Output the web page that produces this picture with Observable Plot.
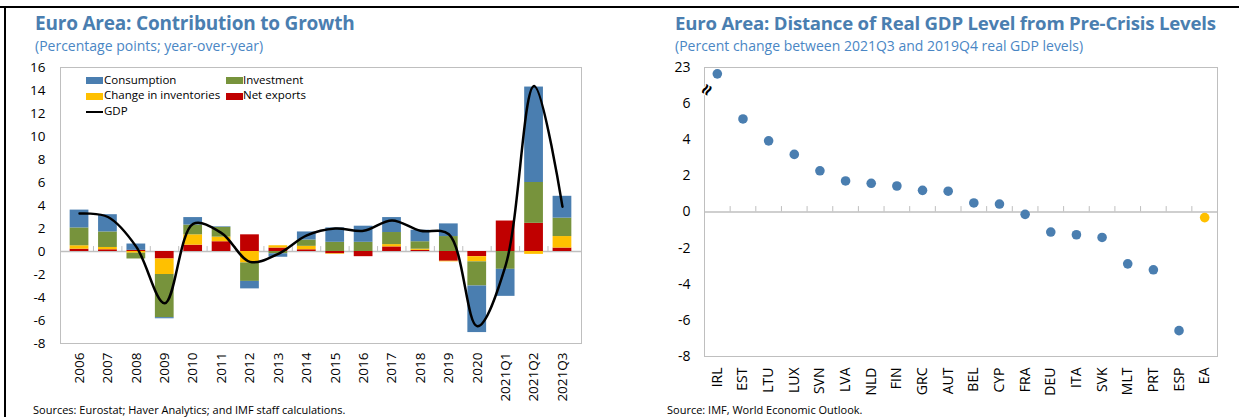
<!DOCTYPE html>
<html><head><meta charset="utf-8">
<script src="https://cdn.jsdelivr.net/npm/d3@7"></script>
<script src="https://cdn.jsdelivr.net/npm/@observablehq/plot@0.6"></script>
<style>
body{margin:0;background:#fff;}
#root{position:relative;width:1239px;height:417px;overflow:hidden;font-family:"Open Sans",sans-serif;background:#fff;}
.t{position:absolute;white-space:nowrap;line-height:1;}
.title{font-weight:700;font-size:19px;color:#4A7EB0;letter-spacing:-0.2px;}
.sub{font-size:14px;color:#4A86C4;}
.src{font-size:11px;color:#000;}
.wrap{position:absolute;}
.leg{position:absolute;font-size:11.5px;line-height:1;white-space:nowrap;color:#000;}
.sw{position:absolute;width:17px;height:7px;}
.bar{position:absolute;background:#000;}
</style></head><body><div id="root">
<div class="bar" style="left:0;top:6px;width:1239px;height:2px;"></div>
<div class="bar" style="left:4px;top:6px;width:2px;height:411px;"></div>
<div class="t title" style="left:35px;top:14px;">Euro Area: Contribution to Growth</div>
<div class="t sub" style="left:35px;top:38.5px;">(Percentage points; year-over-year)</div>
<div class="t title" style="left:675px;top:14px;font-size:18.6px;">Euro Area: Distance of Real GDP Level from Pre-Crisis Levels</div>
<div class="t sub" style="left:675px;top:38.5px;">(Percent change between 2021Q3 and 2019Q4 real GDP levels)</div>
<div class="wrap" id="left" style="left:0;top:55px;"></div>
<div class="wrap" id="right" style="left:620px;top:55px;"></div>
<div id="legend"></div>
<div class="t src" style="left:33px;top:404px;">Sources: Eurostat; Haver Analytics; and IMF staff calculations.</div>
<div class="t src" style="left:667px;top:404px;">Source: IMF, World Economic Outlook.</div>
</div>
<script>
// ---- Left chart data ----
const categories = ["2006","2007","2008","2009","2010","2011","2012","2013","2014","2015","2016","2017","2018","2019","2020","2021Q1","2021Q2","2021Q3"];
const consumption = [1.55,1.5,0.55,-0.1,0.65,0.05,-0.65,-0.3,0.7,1.25,1.4,1.3,1.0,1.1,-4.05,-2.35,8.3,1.9];
const investment  = [1.55,1.35,-0.5,-3.75,0.85,0.85,-1.6,-0.2,0.55,0.8,0.8,1.05,0.65,1.3,-2.1,-1.55,3.55,1.6];
const inventories = [0.3,0.2,-0.15,-1.35,0.9,0.4,-1.0,0.2,0.3,-0.05,0,0.2,0.1,-0.05,-0.45,0,-0.25,1.0];
const netExports  = [0.2,0.15,0.1,-0.65,0.55,0.85,1.45,0.3,0.15,-0.2,-0.45,0.4,0.1,-0.85,-0.45,2.65,2.45,0.3];
const gdp         = [3.3,3.0,0.4,-4.5,2.4,1.6,-0.9,-0.2,1.4,2.0,1.8,2.7,1.8,1.5,-6.5,-1.2,14.4,3.9];
const components = ["Net exports","Change in inventories","Investment","Consumption"];
const componentColors = ["#C00000","#FFC000","#77933C","#4A7EB0"];
const leftTicks = [-8,-6,-4,-2,0,2,4,6,8,10,12,14,16];

// ---- Right chart data ----
const countries = ["IRL","EST","LTU","LUX","SVN","LVA","NLD","FIN","GRC","AUT","BEL","CYP","FRA","DEU","ITA","SVK","MLT","PRT","ESP","EA"];
const distance  = [21.7,5.15,3.94,3.19,2.28,1.72,1.59,1.44,1.2,1.15,0.5,0.44,-0.13,-1.11,-1.26,-1.41,-2.87,-3.2,-6.57,-0.31];
const rightTicks = [-8,-6,-4,-2,0,2,4,6,8];
const rightTickLabels = ["-8","-6","-4","-2","0","2","4","6","23"];

// axis break: values above 7 are compressed so that 23 sits at the top (8)
const brk = v => v > 7 ? 8 - (23 - v) * 0.27 : v;

const rows = [];
categories.forEach((c, i) => {
  rows.push({cat: c, comp: components[0], v: netExports[i]});
  rows.push({cat: c, comp: components[1], v: inventories[i]});
  rows.push({cat: c, comp: components[2], v: investment[i]});
  rows.push({cat: c, comp: components[3], v: consumption[i]});
});

const leftStep = (620 - 60 - 39) / categories.length;
const left = Plot.plot({
  width: 620, height: 362, marginTop: 12, marginBottom: 74, marginLeft: 60, marginRight: 39,
  style: {fontFamily: "Open Sans", fontSize: "13.5px", color: "#000", background: "transparent", overflow: "visible"},
  x: {type: "band", domain: categories, padding: 0.34, round: false, label: null, tickRotate: -90, tickSize: 0, tickPadding: 9},
  y: {domain: [-8, 16], ticks: leftTicks, tickFormat: d => String(d), tickSize: 0, tickPadding: 15, label: null},
  color: {domain: components, range: componentColors},
  marks: [
    Plot.ruleY([0], {stroke: "#BFBFBF", strokeWidth: 1.5}),
    Plot.ruleX(categories.slice(1), {x: d => d, y1: 0, y2: 0.43, dx: -leftStep / 2, stroke: "#BFBFBF"}),
    Plot.barY(rows, {x: "cat", y: "v", fill: "comp"}),
    Plot.line(categories, {x: d => d, y: (d, i) => gdp[i], curve: "catmull-rom", stroke: "#000", strokeWidth: 2.5}),
    Plot.frame({stroke: "#BFBFBF"})
  ]
});
document.getElementById("left").appendChild(left);

const rightStep = (619 - 84 - 22) / countries.length;
const right = Plot.plot({
  width: 619, height: 362, marginTop: 12, marginBottom: 61, marginLeft: 84, marginRight: 22,
  style: {fontFamily: "Open Sans", fontSize: "14px", color: "#000", background: "transparent", overflow: "visible"},
  x: {type: "band", domain: countries, padding: 0, round: false, label: null, tickRotate: -90, tickSize: 0, tickPadding: 11},
  y: {domain: [-8, 8], ticks: rightTicks, tickFormat: d => rightTickLabels[rightTicks.indexOf(d)], tickSize: 0, tickPadding: 14, label: null},
  marks: [
    Plot.ruleY([0], {stroke: "#BFBFBF", strokeWidth: 1.5}),
    Plot.ruleX(countries.slice(1), {x: d => d, y1: 0, y2: 0.3, dx: -rightStep / 2, stroke: "#BFBFBF"}),
    Plot.frame({stroke: "#BFBFBF"}),
    Plot.dot(countries, {x: d => d, y: (d, i) => brk(distance[i]), r: 4.8, fill: d => d === "EA" ? "#FFC000" : "#4A7EB0"}),
    Plot.text(["≈"], {frameAnchor: "left", y: 6.48, text: d => d, rotate: -60, fontSize: 20, fontWeight: "bold", fill: "#000", stroke: "#fff", strokeWidth: 2})
  ]
});
document.getElementById("right").appendChild(right);

// ---- Legend (left chart) ----
const legendItems = [
  {label: "Consumption", color: componentColors[3], col: 0, row: 0},
  {label: "Investment", color: componentColors[2], col: 1, row: 0},
  {label: "Change in inventories", color: componentColors[1], col: 0, row: 1},
  {label: "Net exports", color: componentColors[0], col: 1, row: 1},
  {label: "GDP", color: "#000", col: 0, row: 2, line: true}
];
const lg = document.getElementById("legend");
legendItems.forEach(it => {
  const sx = it.col ? 226 : 86, tx = it.col ? 243 : 104, cy = 80.6 + it.row * 15.7;
  const sw = document.createElement("div");
  sw.className = "sw";
  sw.style.left = sx + "px";
  sw.style.top = (it.line ? cy - 1 : cy - 3.5) + "px";
  sw.style.height = it.line ? "2px" : "7px";
  sw.style.background = it.color;
  lg.appendChild(sw);
  const tt = document.createElement("div");
  tt.className = "leg";
  tt.style.left = tx + "px";
  tt.style.top = (cy - 7) + "px";
  tt.textContent = it.label;
  lg.appendChild(tt);
});
</script>
</body></html>
